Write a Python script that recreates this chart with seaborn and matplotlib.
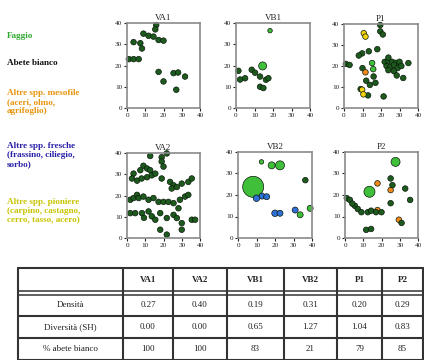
import numpy as np
import pandas as pd
import matplotlib
matplotlib.use("Agg")
import matplotlib.pyplot as plt
import seaborn as sns

sns.set_theme(style="white")
plt.rcParams["font.family"] = ["Liberation Serif", "DejaVu Serif"]

# ---- species groups and colours ----
palette = {"Faggio": "#3fbf3a", "Abete bianco": "#1d5a1d",
           "Mesofile": "#f28a1a", "Fresche": "#2f6fd8", "Pioniere": "#f2d20a"}
legend_labels = ["Faggio", "Abete bianco",
                 "Altre spp. mesofile\n(aceri, olmo,\nagrifoglio)",
                 "Altre spp. fresche\n(frassino, ciliegio,\nsorbo)",
                 "Altre spp. pioniere\n(carpino, castagno,\ncerro, tasso, acero)"]
legend_colors = ["#2ea82e", "#111111", "#e8940c", "#2a20a8", "#c9c400"]

# ---- tree positions per plot (m); crown diameters in px where they differ ----
va1_abete_x = [16, 15.5, 9, 11.8, 14.5, 17.3, 20, 3.6, 7.3, 8.2, 1, 3.6, 6.4, 17.3, 25.5, 28, 31.8, 20, 27]
va1_abete_y = [39, 37, 35, 34, 33.6, 32, 31.7, 31, 30.5, 28, 23, 23, 23, 17, 16.4, 16.7, 14.8, 12.5, 8.6]

vb1_faggio_x = [18.4, 14.4]
vb1_faggio_y = [36.4, 19.8]
vb1_faggio_d = [4.5, 8]
vb1_abete_x = [1.3, 2.2, 4.9, 8.5, 10.3, 13, 16.2, 17.5, 13, 14.8]
vb1_abete_y = [17.5, 13.4, 14, 18, 16.6, 14.8, 13.3, 14, 10, 9.4]

p1_abete_x = [19.6, 19.6, 21, 9.8, 8, 13.4, 22, 24, 26, 28, 30, 23, 25, 27, 29, 31, 24, 27,
              34.8, 28.5, 32, 1, 3, 12, 14, 17, 10, 9, 13, 21.4, 16, 24, 18]
p1_abete_y = [39.5, 36.5, 35, 26, 25, 27, 22, 22.5, 22, 21.5, 22, 20, 19.5, 20.5, 19, 20, 18, 17.5,
              21.4, 15.5, 14.3, 21, 20.5, 13, 11, 12, 19, 9, 6, 5.5, 15, 24, 28]
p1_faggio_x = [15.2, 15.8]
p1_faggio_y = [21.4, 18.5]
p1_meso_x = [11.6]
p1_meso_y = [17]
p1_pion_x = [10.7, 11.6, 9.8, 10.5]
p1_pion_y = [35.6, 34, 8.7, 6.5]

va2_abete_x = [12.7, 21.8, 19, 19, 20, 9, 11, 12.7, 7.3, 3.6, 2.7, 5.5, 8, 11, 13.6, 15.5, 19, 23.6,
               25.5, 24.5, 27.3, 30, 33.6, 35.5, 1.8, 3.6, 5.5, 6.4, 9, 11.8, 14.5, 17.3, 20, 22.7,
               25.5, 29, 31.8, 33.6, 1.8, 4.5, 8.2, 11.8, 13.6, 15.5, 18.2, 21.8, 25.5, 28.2, 27.3,
               30, 35.5, 37.3, 18.2, 21.8, 30, 9.3]
va2_abete_y = [38.6, 39.8, 38, 36, 33.6, 34, 32.7, 31.9, 31.9, 30.3, 28, 27, 28, 28.6, 29.5, 30.3, 28, 26.4,
               24.8, 23.3, 24, 25.6, 26.4, 28, 18, 18.8, 20.3, 18.8, 19.5, 18, 18.8, 17, 17, 17,
               16.4, 18, 19.5, 20.3, 11.7, 11.7, 11.7, 12.5, 10.2, 8.6, 11.7, 9.4, 10.9, 14, 9.4,
               7, 8.6, 8.6, 3.9, 1.6, 3.9, 9.5]

vb2_faggio_x = [8.2, 12.7, 18.2, 22.7, 33.6, 39]
vb2_faggio_y = [23.8, 35.4, 33.8, 33.8, 10.8, 13.8]
vb2_faggio_d = [21, 4.5, 7, 9, 6, 6]
vb2_abete_x = [36.4]
vb2_abete_y = [26.9]
vb2_fresche_x = [10, 13, 15.5, 20, 22.7, 30.9]
vb2_fresche_y = [18.5, 19.5, 19.2, 11.5, 11.5, 13]
vb2_fresche_d = [6.5, 6, 6, 6.5, 6, 6]

p2_faggio_x = [27.7, 13.4]
p2_faggio_y = [35.4, 21.5]
p2_faggio_d = [9, 11]
p2_meso_x = [17.8, 25, 17.8, 29.5]
p2_meso_y = [25.4, 22.3, 13, 8.5]
p2_abete_x = [1, 2.7, 5.4, 7, 9, 12.5, 14.3, 17, 25, 26, 33, 25, 35.7, 31, 11.6, 14.3, 4, 20]
p2_abete_y = [18.5, 17.7, 15, 13.5, 12, 12, 12.7, 12, 27.7, 24.6, 23, 16.2, 17.7, 7, 3.8, 4.2, 16, 12]

# ---- summary table ----
table_cols = ["VA1", "VA2", "VB1", "VB2", "P1", "P2"]
table_rows = ["Densità", "Diversità (SH)", "% abete bianco"]
densita = ["0.27", "0.40", "0.19", "0.31", "0.20", "0.29"]
diversita = ["0.00", "0.00", "0.65", "1.27", "1.04", "0.83"]
perc_abete = ["100", "100", "83", "21", "79", "85"]

DEFAULT_D = 5.6  # px


def frame(parts):
    rows = []
    for sp, xs, ys, ds in parts:
        if ds is None:
            ds = [DEFAULT_D] * len(xs)
        for x, y, d in zip(xs, ys, ds):
            rows.append({"specie": sp, "x": x, "y": y,
                         "area": (d * 0.72) ** 2})
    return pd.DataFrame(rows)


plots = {
    "VA1": frame([("Abete bianco", va1_abete_x, va1_abete_y, None)]),
    "VB1": frame([("Faggio", vb1_faggio_x, vb1_faggio_y, vb1_faggio_d),
                  ("Abete bianco", vb1_abete_x, vb1_abete_y, None)]),
    "P1": frame([("Abete bianco", p1_abete_x, p1_abete_y, None),
                 ("Faggio", p1_faggio_x, p1_faggio_y, None),
                 ("Mesofile", p1_meso_x, p1_meso_y, None),
                 ("Pioniere", p1_pion_x, p1_pion_y, None)]),
    "VA2": frame([("Abete bianco", va2_abete_x, va2_abete_y, None)]),
    "VB2": frame([("Faggio", vb2_faggio_x, vb2_faggio_y, vb2_faggio_d),
                  ("Abete bianco", vb2_abete_x, vb2_abete_y, None),
                  ("Fresche", vb2_fresche_x, vb2_fresche_y, vb2_fresche_d)]),
    "P2": frame([("Faggio", p2_faggio_x, p2_faggio_y, p2_faggio_d),
                 ("Mesofile", p2_meso_x, p2_meso_y, None),
                 ("Abete bianco", p2_abete_x, p2_abete_y, None)]),
}

W, H = 424, 360
fig = plt.figure(figsize=(W / 100, H / 100), dpi=100)


def px_axes(l, t, r, b):
    return fig.add_axes([l / W, (H - b) / H, (r - l) / W, (b - t) / H])


boxes = {"VA1": (127, 23, 200, 108), "VB1": (236, 23, 310, 108), "P1": (344, 24, 418, 108),
         "VA2": (127, 153, 200, 238), "VB2": (238, 152, 312, 238), "P2": (345, 152, 418, 238)}

for name, box in boxes.items():
    ax = px_axes(*box)
    d = plots[name]
    lo, hi = d["area"].min(), d["area"].max()
    if hi - lo < 1e-9:
        hi = lo + 1e-6
    sns.scatterplot(data=d, x="x", y="y", hue="specie", size="area", palette=palette,
                    sizes=(lo, hi), size_norm=(lo, hi),
                    edgecolor="#0a1a0a", linewidth=0.5, legend=False, ax=ax, clip_on=False)
    ax.set_xlim(0, 40)
    ax.set_ylim(0, 40)
    ax.set_xticks([0, 10, 20, 30, 40])
    ax.set_yticks([0, 10, 20, 30, 40])
    ax.tick_params(labelsize=5.2, length=2.5, width=0.8, pad=1, colors="#222222",
                   bottom=True, left=True)
    ax.set_xlabel("")
    ax.set_ylabel("")
    for sp in ax.spines.values():
        sp.set_color("#8a8a8a")
        sp.set_linewidth(1.2)
    ax.set_title(name, fontsize=6.5, pad=2, color="#222222")

# ---- species key on the left ----
legend_y = [37, 64, 94, 147, 203]
for lab, col, y in zip(legend_labels, legend_colors, legend_y):
    fig.text(7 / W, 1 - (y - 5) / H, lab, color=col, fontsize=6.6, fontweight="bold",
             va="top", ha="left", linespacing=1.2)

# ---- table ----
tax = fig.add_axes([0, 0, 1, 1])
tax.set_xlim(0, W)
tax.set_ylim(H, 0)
tax.axis("off")
xs = [18, 123, 173, 227, 284, 337, 382, 423]
ys = [268, 292, 316, 338, 360]
lc = "#333333"
for x in xs:
    tax.plot([x, x], [ys[0], ys[-1]], color=lc, lw=1.5)
for y in [268, 316, 338, 359.5]:
    tax.plot([xs[0], xs[-1]], [y, y], color=lc, lw=1.5)
tax.plot([xs[0], xs[-1]], [291, 291], color=lc, lw=1.1)
tax.plot([xs[0], xs[-1]], [294.5, 294.5], color=lc, lw=1.1)

for i, c in enumerate(table_cols):
    tax.text((xs[i + 1] + xs[i + 2]) / 2, 280, c, ha="center", va="center",
             fontsize=6.5, fontweight="bold", color="#222222")
row_centers = [305, 327, 349]
for r, yc, vals in zip(table_rows, row_centers, [densita, diversita, perc_abete]):
    tax.text((xs[0] + xs[1]) / 2, yc, r, ha="center", va="center", fontsize=6.5, color="#222222")
    for i, v in enumerate(vals):
        tax.text((xs[i + 1] + xs[i + 2]) / 2, yc, v, ha="center", va="center",
                 fontsize=6.5, color="#222222")

fig.savefig("out.png", dpi=100)
